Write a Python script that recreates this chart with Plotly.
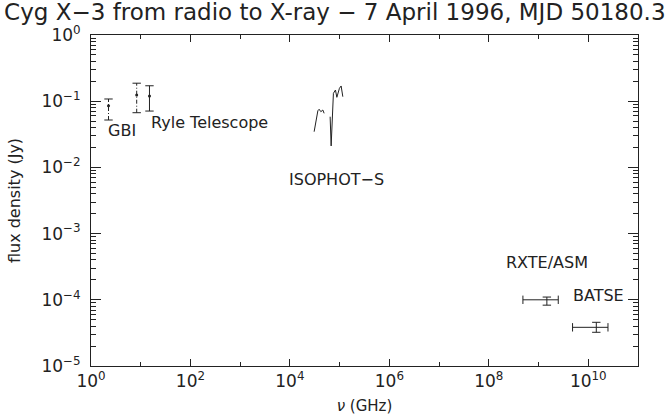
import math
import plotly.graph_objects as go

# radio points (GHz, Jy)
radio_freq = [2.25, 8.3, 15.0]
radio_flux = [0.085, 0.124, 0.12]
radio_lo = [0.052, 0.067, 0.071]
radio_hi = [0.108, 0.187, 0.171]
radio_dash = ["4px,2px,1px,2px", "4px,2px,1px,2px", "solid"]

# ISOPHOT-S spectrum (None = gap)
iso_freq = [30700, 36500, 38700, 41900, 45900, 48800, None,
            64400, 67500, 75000, 82400, 87900, 99100, 107200, 115900]
iso_flux = [0.0346, 0.0718, 0.0755, 0.0694, 0.0736, 0.0656, None,
            0.0583, 0.0211, 0.1316, 0.1476, 0.1145, 0.1567, 0.1698, 0.117]

# X-ray points: centre, band edges, flux and flux range
xray_freq = [1.47e9, 1.45e10]
xray_band_lo = [4.85e8, 4.83e9]
xray_band_hi = [2.49e9, 2.49e10]
xray_flux = [1.0e-4, 3.84e-5]
xray_lo = [0.83e-4, 3.23e-5]
xray_hi = [1.10e-4, 4.57e-5]

labels = ["GBI", "Ryle Telescope", "ISOPHOT−S", "RXTE/ASM", "BATSE"]
label_x = [4.2, 247, 85000, 1.5e9, 1.6e10]
label_y = [0.0367, 0.0485, 0.0066, 3.6e-4, 1.18e-4]

x_tickvals = [1e0, 1e2, 1e4, 1e6, 1e8, 1e10]
x_ticktext = ["10<sup>0</sup>", "10<sup>2</sup>", "10<sup>4</sup>",
              "10<sup>6</sup>", "10<sup>8</sup>", "10<sup>10</sup>"]
x_minor = [1e1, 1e3, 1e5, 1e7, 1e9]
y_tickvals = [1e0, 1e-1, 1e-2, 1e-3, 1e-4, 1e-5]
y_ticktext = ["10<sup>0</sup>", "10<sup>−1</sup>", "10<sup>−2</sup>",
              "10<sup>−3</sup>", "10<sup>−4</sup>", "10<sup>−5</sup>"]
y_minor = [m * 10.0 ** k for k in range(-5, 0) for m in range(2, 10)]

FONT = "DejaVu Sans"
INK = "#222222"

fig = go.Figure()

# radio error bars drawn as segments with caps
for f, c, lo, hi, d in zip(radio_freq, radio_flux, radio_lo, radio_hi, radio_dash):
    fig.add_trace(go.Scatter(x=[f, f], y=[lo, hi], mode="lines",
                             line=dict(color=INK, width=1, dash=d), showlegend=False))
    fig.add_trace(go.Scatter(x=[f, f], y=[lo, hi], mode="markers",
                             marker=dict(symbol="line-ew", size=6, line=dict(color=INK, width=1)),
                             showlegend=False))
    fig.add_trace(go.Scatter(x=[f], y=[c], mode="markers",
                             marker=dict(symbol="circle", size=3, color=INK),
                             showlegend=False))

# ISOPHOT-S spectrum
fig.add_trace(go.Scatter(x=iso_freq, y=iso_flux, mode="lines",
                         line=dict(color=INK, width=1), connectgaps=False, showlegend=False))

# X-ray crosses
for f, b0, b1, c, lo, hi in zip(xray_freq, xray_band_lo, xray_band_hi, xray_flux, xray_lo, xray_hi):
    fig.add_trace(go.Scatter(x=[b0, b1], y=[c, c], mode="lines",
                             line=dict(color=INK, width=1), showlegend=False))
    fig.add_trace(go.Scatter(x=[b0, b1], y=[c, c], mode="markers",
                             marker=dict(symbol="line-ns", size=6, line=dict(color=INK, width=1)),
                             showlegend=False))
    fig.add_trace(go.Scatter(x=[f, f], y=[lo, hi], mode="lines",
                             line=dict(color=INK, width=1), showlegend=False))
    fig.add_trace(go.Scatter(x=[f, f], y=[lo, hi], mode="markers",
                             marker=dict(symbol="line-ew", size=6, line=dict(color=INK, width=1)),
                             showlegend=False))

# annotations on log axes take log10 positions
for t, x, y in zip(labels, label_x, label_y):
    fig.add_annotation(x=math.log10(x), y=math.log10(y), text=t, showarrow=False,
                       xanchor="center", yanchor="middle",
                       font=dict(family=FONT, size=16, color=INK))

axis_common = dict(
    showline=True, linecolor=INK, linewidth=1, mirror="allticks",
    ticks="inside", tickcolor=INK, tickwidth=1,
    showgrid=False, zeroline=False, automargin=False,
    tickfont=dict(family=FONT, size=17, color=INK),
)

fig.update_xaxes(
    type="log", range=[0, 11],
    tickvals=x_tickvals, ticktext=x_ticktext, ticklen=7,
    minor=dict(tickvals=x_minor, ticks="inside", ticklen=4, tickcolor=INK, showgrid=False),
    title=dict(text="<i>ν</i> (GHz)", font=dict(family=FONT, size=15, color=INK), standoff=10),
    **axis_common,
)
fig.update_yaxes(
    type="log", range=[-5, 0],
    tickvals=y_tickvals, ticktext=y_ticktext, ticklen=10,
    minor=dict(tickvals=y_minor, ticks="inside", ticklen=5, tickcolor=INK, showgrid=False),
    title=dict(text="flux density (Jy)", font=dict(family=FONT, size=16, color=INK), standoff=16),
    ticklabelstandoff=6,
    **axis_common,
)

fig.update_layout(
    width=667, height=417,
    margin=dict(l=91, r=29, t=35, b=51),
    paper_bgcolor="white", plot_bgcolor="white",
    title=dict(text="Cyg X−3 from radio to X-ray − 7 April 1996, MJD 50180.3",
               x=0.502, xanchor="center", y=0.971, yanchor="middle",
               font=dict(family=FONT, size=23, color=INK)),
    showlegend=False,
)

# drop the default page margin so the figure sits at the window's corner
fig.write_html("out.html", config={"displayModeBar": False},
               post_script="document.body.style.margin='0';")
